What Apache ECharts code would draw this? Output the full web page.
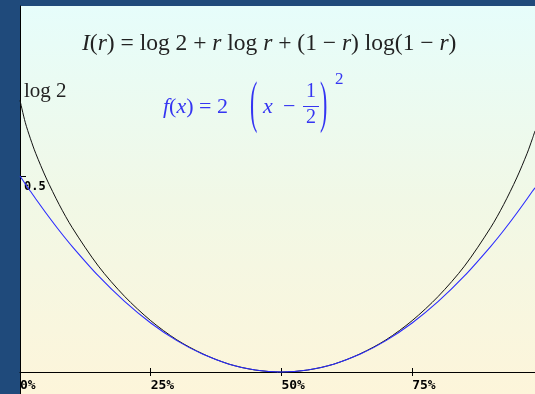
<!DOCTYPE html>
<html>
<head>
<meta charset="utf-8">
<script src="https://cdn.jsdelivr.net/npm/echarts@6/dist/echarts.min.js"></script>
<style>
html, body { margin: 0; padding: 0; background: #1f4a7b; }
#chart { width: 535px; height: 394px; }
</style>
</head>
<body>
<div id="chart"></div>
<script>
// points (x as fraction of the axis, y in axis units)
var rValues = [0, 0.01, 0.02, 0.03, 0.05, 0.075, 0.1, 0.15, 0.2, 0.25, 0.3, 0.35, 0.4, 0.45, 0.5,
  0.55, 0.6, 0.65, 0.7, 0.75, 0.8, 0.85, 0.9, 0.925, 0.95, 0.97, 0.98, 0.985];
// black curve, I(r)
var infoValues = [0.693, 0.637, 0.595, 0.558, 0.495, 0.427, 0.368, 0.270, 0.193, 0.131, 0.082, 0.046, 0.020, 0.005, 0,
  0.005, 0.020, 0.046, 0.082, 0.131, 0.193, 0.270, 0.368, 0.427, 0.495, 0.558, 0.595, 0.615];
// blue curve, f(x)
var quadValues = [0.500, 0.480, 0.461, 0.442, 0.405, 0.361, 0.320, 0.245, 0.180, 0.125, 0.080, 0.045, 0.020, 0.005, 0,
  0.005, 0.020, 0.045, 0.080, 0.125, 0.180, 0.245, 0.320, 0.361, 0.405, 0.442, 0.461, 0.470];

var xTicks = [0, 0.25, 0.5, 0.75];
var yTicks = [0.5];

var serif = '"Liberation Serif", "DejaVu Serif", serif';
var mono = '"DejaVu Sans Mono", monospace';
var blueText = '#3535f2';

function pairs(ys) {
  return rValues.map(function (r, i) { return [r, ys[i]]; });
}

var chart = echarts.init(document.getElementById('chart'));

var xMin = 0, xMax = 0.985;

var option = {
  backgroundColor: '#1f4a7b',
  animation: false,
  grid: {
    left: 20, right: 0, top: 6, bottom: 0,
    show: true,
    borderWidth: 0,
    outerBoundsMode: 'none',
    backgroundColor: {
      type: 'linear', x: 0, y: 0, x2: 0, y2: 1,
      colorStops: [
        { offset: 0, color: '#e6fdfb' },
        { offset: 0.5, color: '#f1f8e6' },
        { offset: 1, color: '#fdf5da' }
      ]
    }
  },
  xAxis: [{
    type: 'value', min: xMin, max: xMax, position: 'bottom', offset: -22,
    axisLine: { onZero: false, lineStyle: { color: '#000', width: 1 } },
    axisTick: { length: 4, customValues: xTicks, lineStyle: { color: '#000' } },
    axisLabel: {
      customValues: xTicks, margin: 7, align: 'left',
      color: '#000', fontFamily: mono, fontWeight: 'bold', fontSize: 13,
      formatter: function (v) { return Math.round(v * 100) + '%'; }
    },
    splitLine: { show: false }
  }, {
    type: 'value', min: xMin, max: xMax, position: 'bottom', offset: -22,
    axisLine: { show: false, onZero: false },
    axisTick: { inside: true, length: 4, customValues: xTicks, lineStyle: { color: '#000' } },
    axisLabel: { show: false },
    splitLine: { show: false }
  }],
  yAxis: {
    type: 'value', min: -22 / 392, max: 366 / 392,
    axisLine: { show: true, onZero: false, lineStyle: { color: '#000', width: 1 } },
    axisTick: { inside: true, length: 6, customValues: yTicks, lineStyle: { color: '#000' } },
    axisLabel: {
      inside: true, customValues: yTicks, margin: 4, align: 'left', verticalAlign: 'top',
      padding: [5, 0, 0, 0],
      color: '#000', fontFamily: mono, fontWeight: 'bold', fontSize: 12,
      formatter: function (v) { return v.toFixed(1); }
    },
    splitLine: { show: false }
  },
  series: [{
    name: 'I(r)', type: 'line', data: pairs(infoValues),
    showSymbol: false, smooth: 0.3,
    lineStyle: { color: '#111', width: 1 }
  }, {
    name: 'f(x)', type: 'line', data: pairs(quadValues),
    showSymbol: false, smooth: 0.3,
    lineStyle: { color: '#2b2bff', width: 1.1 }
  }],
  graphic: [
    // I(r) formula
    { type: 'text', x: 82, y: 44, z: 10, style: {
      text: '{i|I}({i|r}) = log 2 + {i|r} log {i|r} + (1 − {i|r}) log(1 − {i|r})',
      fontFamily: serif, fontSize: 23.5, fill: '#222', verticalAlign: 'middle',
      rich: { i: { fontFamily: serif, fontSize: 23.5, fontStyle: 'italic', fill: '#222' } }
    } },
    // log 2 label
    { type: 'text', x: 24, y: 91, z: 10, style: {
      text: 'log 2', fontFamily: serif, fontSize: 21, fill: '#222', verticalAlign: 'middle'
    } },
    // f(x) formula
    { type: 'text', x: 163, y: 107, z: 10, style: {
      text: '{i|f}({i|x}) = 2', fontFamily: serif, fontSize: 22, fill: blueText, verticalAlign: 'middle',
      rich: { i: { fontFamily: serif, fontSize: 22, fontStyle: 'italic', fill: blueText } }
    } },
    { type: 'text', x: 250, y: 106, scaleY: 2.6, z: 10, style: {
      text: '(', fontFamily: serif, fontSize: 22, fill: blueText, verticalAlign: 'middle'
    } },
    { type: 'text', x: 263, y: 107, z: 10, style: {
      text: 'x', fontFamily: serif, fontSize: 22, fontStyle: 'italic', fill: blueText, verticalAlign: 'middle'
    } },
    { type: 'text', x: 283, y: 107, z: 10, style: {
      text: '−', fontFamily: serif, fontSize: 22, fill: blueText, verticalAlign: 'middle'
    } },
    { type: 'text', x: 311, y: 92, z: 10, style: {
      text: '1', fontFamily: serif, fontSize: 20, fill: blueText, align: 'center', verticalAlign: 'middle'
    } },
    { type: 'line', z: 10, shape: { x1: 303, y1: 106.5, x2: 319, y2: 106.5 },
      style: { stroke: blueText, lineWidth: 1 } },
    { type: 'text', x: 311, y: 118, z: 10, style: {
      text: '2', fontFamily: serif, fontSize: 20, fill: blueText, align: 'center', verticalAlign: 'middle'
    } },
    { type: 'text', x: 320, y: 106, scaleY: 2.6, z: 10, style: {
      text: ')', fontFamily: serif, fontSize: 22, fill: blueText, verticalAlign: 'middle'
    } },
    { type: 'text', x: 335, y: 80, z: 10, style: {
      text: '2', fontFamily: serif, fontSize: 17, fill: blueText, verticalAlign: 'middle'
    } }
  ]
};

chart.setOption(option);
</script>
</body>
</html>
